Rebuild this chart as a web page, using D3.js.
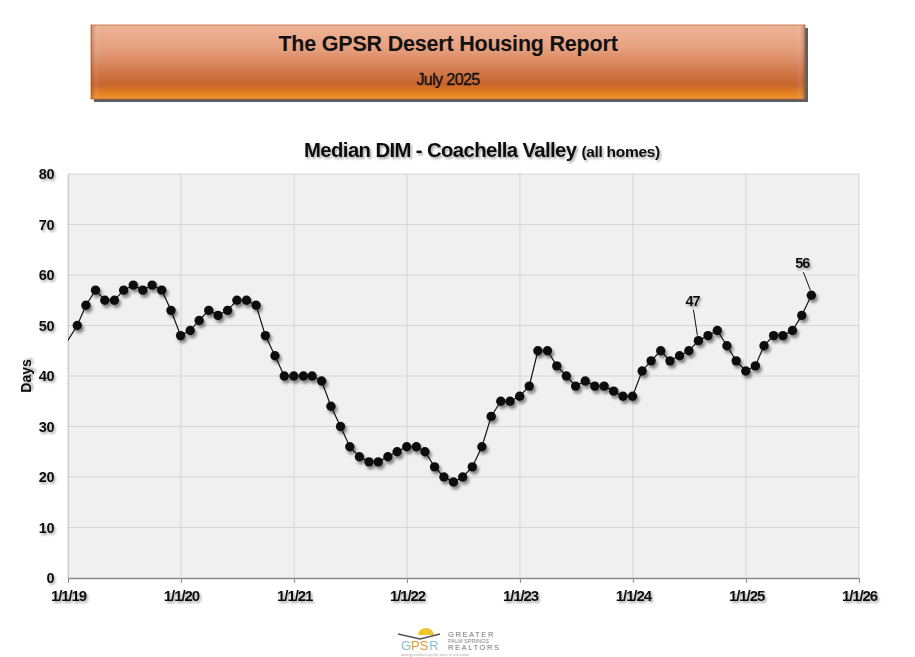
<!DOCTYPE html>
<html>
<head>
<meta charset="utf-8">
<script src="https://cdn.jsdelivr.net/npm/d3@7"></script>
<style>
  html, body { margin: 0; padding: 0; background: #fff; }
  svg { display: block; font-family: "Liberation Sans", Arial, sans-serif; }
</style>
</head>
<body>
<svg id="chart" width="915" height="657"></svg>
<script>
'use strict';

// monthly median days-in-market, plotted at month end
var firstMonth = "2018-12";
var medianDays = [
    47,
    50, 54, 57, 55, 55, 57, 58, 57, 58, 57, 53, 48,
    49, 51, 53, 52, 53, 55, 55, 54, 48, 44, 40, 40,
    40, 40, 39, 34, 30, 26, 24, 23, 23, 24, 25, 26,
    26, 25, 22, 20, 19, 20, 22, 26, 32, 35, 35, 36,
    38, 45, 45, 42, 40, 38, 39, 38, 38, 37, 36, 36,
    41, 43, 45, 43, 44, 45, 47, 48, 49, 46, 43, 41,
    42, 46, 48, 48, 49, 52, 56
];
var xTickLabels = ["1/1/19", "1/1/20", "1/1/21", "1/1/22", "1/1/23", "1/1/24", "1/1/25", "1/1/26"];
var yTicks = [0, 10, 20, 30, 40, 50, 60, 70, 80];
var calloutMonths = ["2024-07", "2025-07"];

var svg = d3.select("#chart");
var margin = {left: 68, right: 859, top: 174, bottom: 578};

function monthEnd(ym, offset) {
    var p = ym.split("-");
    return new Date(Date.UTC(+p[0], +p[1] - 1 + offset + 1, 0));
}

var points = medianDays.map(function (v, i) {
    return {date: monthEnd(firstMonth, i), value: v, key: d3.utcFormat("%Y-%m")(monthEnd(firstMonth, i))};
});

var x = d3.scaleUtc()
    .domain([new Date(Date.UTC(2019, 0, 1)), new Date(Date.UTC(2026, 0, 1))])
    .range([margin.left, margin.right]);
var y = d3.scaleLinear().domain([0, 80]).range([margin.bottom, margin.top]);

var defs = svg.append("defs");

var grad = defs.append("linearGradient")
    .attr("id", "hdr").attr("x1", 0).attr("y1", 0).attr("x2", 0).attr("y2", 1);
[["0%", "#eeb497"], ["30%", "#e7a282"], ["62%", "#d27a4c"], ["80%", "#c7652f"], ["92%", "#e3801f"], ["100%", "#ee9530"]]
    .forEach(function (s) { grad.append("stop").attr("offset", s[0]).attr("stop-color", s[1]); });

var side = defs.append("linearGradient")
    .attr("id", "hdrside").attr("x1", 0).attr("y1", 0).attr("x2", 1).attr("y2", 0);
[["0%", "rgba(120,50,20,0.35)"], ["1.2%", "rgba(255,255,255,0)"], ["98.8%", "rgba(255,255,255,0)"], ["100%", "rgba(120,50,20,0.35)"]]
    .forEach(function (s) { side.append("stop").attr("offset", s[0]).attr("stop-color", s[1]); });

var dotShadow = defs.append("filter").attr("id", "dotshadow")
    .attr("x", "-100%").attr("y", "-100%").attr("width", "300%").attr("height", "300%");
dotShadow.append("feDropShadow").attr("dx", 2).attr("dy", 3).attr("stdDeviation", 1.6)
    .attr("flood-color", "#000").attr("flood-opacity", 0.45);

var txtShadow = defs.append("filter").attr("id", "txtshadow")
    .attr("x", "-20%").attr("y", "-50%").attr("width", "140%").attr("height", "200%");
txtShadow.append("feDropShadow").attr("dx", 1.5).attr("dy", 2).attr("stdDeviation", 1)
    .attr("flood-color", "#000").attr("flood-opacity", 0.35);

defs.append("clipPath").attr("id", "plotclip")
    .append("rect")
    .attr("x", margin.left).attr("y", margin.top)
    .attr("width", margin.right - margin.left).attr("height", margin.bottom - margin.top);

// header banner
var hdr = svg.append("g");
hdr.append("rect").attr("x", 94).attr("y", 28).attr("width", 714).attr("height", 74).attr("fill", "#5e5e5e");
hdr.append("rect").attr("x", 91).attr("y", 25).attr("width", 714).attr("height", 74).attr("fill", "url(#hdr)")
    .attr("stroke", "#b5643a").attr("stroke-width", 0.8);
hdr.append("rect").attr("x", 91).attr("y", 25).attr("width", 714).attr("height", 74).attr("fill", "url(#hdrside)");
hdr.append("text").attr("x", 448).attr("y", 51).attr("text-anchor", "middle")
    .attr("font-size", 21.5).attr("font-weight", "bold").attr("fill", "#111").attr("letter-spacing", -0.2)
    .text("The GPSR Desert Housing Report");
hdr.append("text").attr("x", 448).attr("y", 85).attr("text-anchor", "middle")
    .attr("font-size", 16).attr("fill", "#111").attr("stroke", "#111").attr("stroke-width", 0.35)
    .attr("letter-spacing", -0.6)
    .text("July 2025");

// chart title
var title = svg.append("text").attr("x", 482).attr("y", 157).attr("text-anchor", "middle")
    .attr("font-weight", "bold").attr("fill", "#111").attr("filter", "url(#txtshadow)");
title.append("tspan").attr("font-size", 20.3).attr("letter-spacing", -0.6).text("Median DIM - Coachella Valley ");
title.append("tspan").attr("font-size", 15.5).attr("letter-spacing", -0.3).text("(all homes)");

// plot area
svg.append("rect")
    .attr("x", margin.left).attr("y", margin.top)
    .attr("width", margin.right - margin.left).attr("height", margin.bottom - margin.top)
    .attr("fill", "#f0f0f0");

svg.append("g").selectAll("line").data(yTicks.slice(1)).enter().append("line")
    .attr("x1", margin.left).attr("x2", margin.right)
    .attr("y1", function (d) { return y(d); }).attr("y2", function (d) { return y(d); })
    .attr("stroke", "#d6d6d6").attr("stroke-width", 1);

var xTicks = xTickLabels.map(function (s, i) { return new Date(Date.UTC(2019 + i, 0, 1)); });

svg.append("g").selectAll("line").data(xTicks).enter().append("line")
    .attr("x1", function (d) { return x(d); }).attr("x2", function (d) { return x(d); })
    .attr("y1", margin.top).attr("y2", margin.bottom)
    .attr("stroke", "#d6d6d6").attr("stroke-width", 1);

// axes
var yAxis = svg.append("g")
    .attr("transform", "translate(" + margin.left + ",0)")
    .call(d3.axisLeft(y).tickValues(yTicks).tickSize(0).tickPadding(14));
yAxis.select(".domain").attr("stroke", "#c8c8c8");
yAxis.selectAll("text").attr("font-size", 14.5).attr("font-weight", "bold").attr("fill", "#111")
    .attr("letter-spacing", -0.5)
    .attr("font-family", "Liberation Sans, Arial, sans-serif").attr("filter", "url(#txtshadow)");

var xAxis = svg.append("g")
    .attr("transform", "translate(0," + margin.bottom + ")")
    .call(d3.axisBottom(x).tickValues(xTicks)
        .tickFormat(function (d, i) { return xTickLabels[i]; })
        .tickSize(5).tickSizeOuter(0).tickPadding(7));
xAxis.select(".domain").attr("stroke", "#8a8a8a").attr("stroke-width", 1.5);
xAxis.selectAll(".tick line").attr("stroke", "#8a8a8a");
xAxis.selectAll("text").attr("font-size", 15).attr("font-weight", "bold").attr("fill", "#111")
    .attr("letter-spacing", -1.1)
    .attr("font-family", "Liberation Sans, Arial, sans-serif").attr("filter", "url(#txtshadow)");

svg.append("text")
    .attr("transform", "translate(31," + y(40) + ") rotate(-90)")
    .attr("text-anchor", "middle").attr("font-size", 14).attr("font-weight", "bold").attr("fill", "#111")
    .attr("filter", "url(#txtshadow)")
    .text("Days");

// series
var line = d3.line()
    .x(function (d) { return x(d.date); })
    .y(function (d) { return y(d.value); });

var series = svg.append("g").attr("clip-path", "url(#plotclip)");
series.append("path").datum(points)
    .attr("d", line).attr("fill", "none").attr("stroke", "#111").attr("stroke-width", 1.2);

series.append("g").attr("filter", "url(#dotshadow)")
    .selectAll("circle")
    .data(points.filter(function (d) { return d.date >= x.domain()[0]; }))
    .enter().append("circle")
    .attr("cx", function (d) { return x(d.date); })
    .attr("cy", function (d) { return y(d.value); })
    .attr("r", 4.7)
    .attr("fill", "#111");

// data callouts
var calloutOffset = {"2024-07": [-6, -35], "2025-07": [-9, -27]};
var callouts = svg.append("g");
points.filter(function (d) { return calloutMonths.indexOf(d.key) >= 0; }).forEach(function (d) {
    var px = x(d.date), py = y(d.value);
    var off = calloutOffset[d.key];
    callouts.append("line")
        .attr("x1", px - 1).attr("y1", py - 5)
        .attr("x2", px + off[0] + 1).attr("y2", py + off[1] + 4)
        .attr("stroke", "#111").attr("stroke-width", 1);
    callouts.append("text")
        .attr("x", px + off[0]).attr("y", py + off[1])
        .attr("text-anchor", "middle").attr("font-size", 14.5).attr("font-weight", "bold")
        .attr("letter-spacing", -1).attr("fill", "#111").attr("filter", "url(#txtshadow)")
        .text(d.value);
});

// footer logo
var logo = svg.append("g").attr("transform", "translate(398,628)");
logo.append("path").attr("d", "M20,7 A8,7 0 0 1 36,7 Z").attr("fill", "#f2c530");
logo.append("path").attr("d", "M0,6 L22,11 L42,6").attr("fill", "none").attr("stroke", "#555").attr("stroke-width", 1.6);
logo.append("text").attr("x", 3).attr("y", 22).attr("font-size", 13).attr("fill", "#8dbcd6").text("G");
logo.append("text").attr("x", 13).attr("y", 22).attr("font-size", 13).attr("fill", "#e49a2a").text("PS");
logo.append("text").attr("x", 31).attr("y", 22).attr("font-size", 13).attr("fill", "#8dbcd6").text("R");
logo.append("text").attr("x", 50).attr("y", 9).attr("font-size", 7.5).attr("fill", "#777").attr("letter-spacing", 1.6).text("GREATER");
logo.append("text").attr("x", 50).attr("y", 15).attr("font-size", 5.5).attr("fill", "#888").text("PALM SPRINGS");
logo.append("text").attr("x", 50).attr("y", 22).attr("font-size", 7.5).attr("fill", "#777").attr("letter-spacing", 1.6).text("REALTORS");
logo.append("text").attr("x", 3).attr("y", 28).attr("font-size", 3.5).attr("fill", "#aaa").text("www.gpsrealtors.org  the voice of real estate");
</script>
</body>
</html>
